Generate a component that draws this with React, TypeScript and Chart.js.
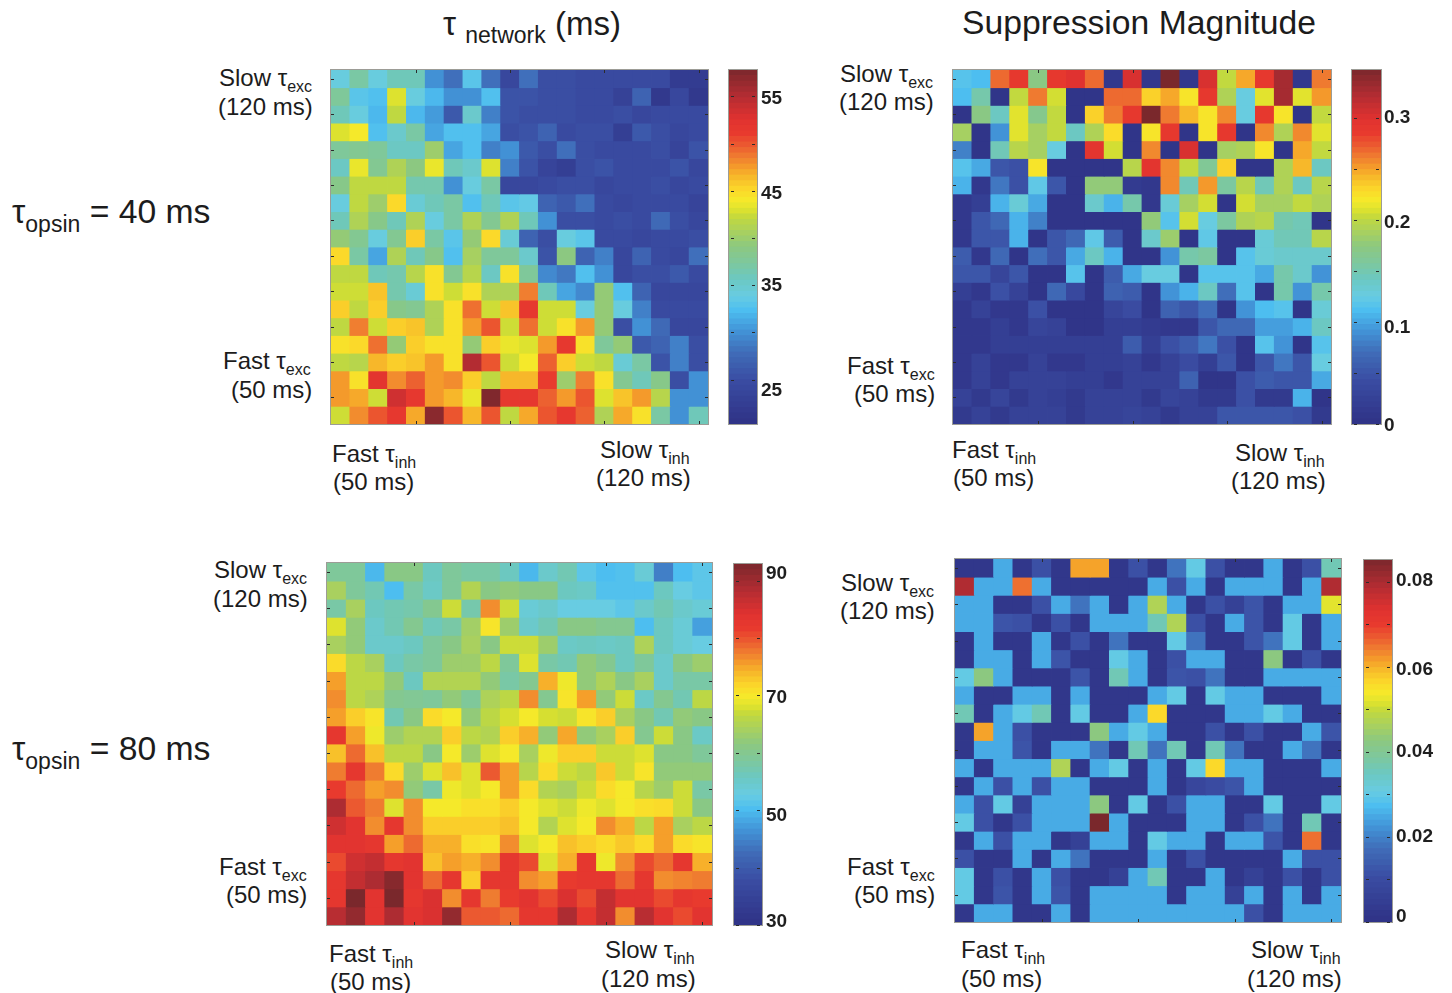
import React, { useEffect, useRef } from "react";
import { Chart, registerables } from "chart.js";

Chart.register(...registerables);

const columns = ["1","2","3","4","5","6","7","8","9","10","11","12","13","14","15","16","17","18","19","20"];

const tauNetwork40 = [
[34,37,34,36,36,30,28,33,28,24,28,25,25,24.5,24.5,24.5,24.5,24.5,22,22],
[37.5,33,32.5,43,34,32,30,30,32.5,25.5,25.5,25,25,24.5,24.5,23,27,21.5,24,21.5],
[36,34,32,42,32,30.5,26,35,29,25.5,25,25,25,24.5,24.5,25,24,24.5,24.5,24.5],
[43,44,32.5,35,37,31,32.5,32.5,31,25,25.5,27,24.5,25,25,22.5,26,25,24,24.5],
[37.5,38,37.5,35.5,35.5,40,31,32.5,29,30,26,25,28,25,24.5,24.5,24.5,25,23.5,25.5],
[35.5,43.5,38,41,39,43.5,36,35,43,29,25.5,23.5,22.5,25,25.5,24.5,24.5,24.5,25.5,24],
[38.5,42,42,42,36.5,36.5,30,34,37,24,24,24.5,25,25,24,24.5,24.5,25,24,24.5],
[34,42,40,45,34.5,36,37,32.5,36,33,33.5,27,26,28,24.5,24,24.5,24.5,24.5,23.5],
[36,41,38.5,36,41,34,37,41,38,41,36,30,25,25,24.5,25,24.5,27.5,25,24],
[39.5,38,34,38,45.5,37,33,39.5,45,34.5,27,25,34,33,24.5,24.5,24,24.5,24.5,25],
[45,37,31,41,36,38.5,32.5,40.5,37.5,37.5,35,25.5,39,27,29,24,27,24.5,24,28],
[42,42,36,36.5,41.5,44.5,38,41.5,35.5,44.5,37.5,29.5,28.5,32.5,30,24,25,25,26,24.5],
[42.5,42.5,46,36.5,34.5,44.5,42.5,44.5,41,41,48.5,36,31,29.5,39.5,32.5,27,24,24,24],
[45.5,42,45.5,38.5,38,41,44.5,49,42.5,46,51.5,42.5,42.5,34,39.5,34,29,24.5,24.5,24.5],
[42,48.5,42.5,45.5,46,41,44.5,47.5,50,42.5,49,42.5,44.5,47.5,39.5,25,30,27.5,24,24],
[44.5,45,49,39.5,45.5,44.5,44.5,39.5,45.5,43.5,43,47.5,51.5,44.5,37.5,39.5,26,27,29,25],
[42,41.5,46.5,45.5,46,47.5,44.5,55,50,42.5,44,49.5,45.5,42.5,42,34.5,37,25.5,29,25],
[47.5,44.5,52,48,49.5,47.5,48,45.5,42,46.5,46.5,51,40,48.5,44.5,38,36,38.5,25,30],
[47.5,47,42.5,53.5,51.5,47.5,46.5,43.5,57.5,51.5,51.5,49.5,47.5,50,43,46,47.5,41.5,30,30],
[42.5,48,50,51.5,47,57,50,46.5,50,42,47,50,51.5,49.5,41,47,44.5,37,30,36],
];

const suppression40 = [
[.115,.11,.265,.285,.17,.285,.295,.265,.01,.3,.01,.344,.01,.3,.2,.245,.285,.325,.01,.26],
[.11,.15,.005,.2,.26,.205,.005,.005,.265,.265,.23,.245,.22,.285,.19,.125,.21,.325,.21,.25],
[.005,.17,.14,.21,.165,.2,.005,.23,.26,.285,.344,.26,.24,.22,.255,.125,.285,.22,.005,.2],
[.185,.005,.09,.21,.185,.2,.14,.19,.225,.005,.22,.285,.005,.22,.285,.005,.255,.19,.255,.21],
[.08,.005,.145,.195,.185,.125,.005,.29,.205,.005,.255,.005,.3,.005,.185,.19,.22,.005,.245,.2],
[.115,.1,.05,.045,.22,.005,.005,.005,.005,.195,.29,.255,.2,.16,.23,.005,.005,.19,.24,.14],
[.105,.01,.075,.045,.12,.05,.005,.175,.175,.015,.01,.255,.145,.25,.155,.195,.145,.19,.14,.195],
[.01,.02,.105,.13,.1,.005,.005,.135,.105,.15,.01,.13,.185,.205,.005,.205,.185,.185,.2,.19],
[.01,.05,.065,.105,.08,.005,.005,.005,.005,.005,.175,.115,.205,.125,.155,.19,.195,.15,.145,.005],
[.01,.05,.05,.105,.005,.05,.065,.12,.055,.005,.135,.18,.005,.12,.005,.005,.13,.145,.145,.195],
[.055,.01,.065,.005,.07,.05,.1,.14,.105,.005,.005,.09,.15,.155,.005,.115,.13,.135,.135,.135],
[.05,.05,.03,.05,.005,.005,.115,.005,.055,.1,.125,.125,.005,.115,.115,.115,.1,.15,.135,.09],
[.02,.01,.045,.025,.005,.065,.035,.005,.06,.055,.005,.09,.105,.14,.07,.115,.005,.15,.09,.15],
[.01,.025,.01,.01,.045,.005,.005,.005,.03,.04,.005,.06,.05,.07,.005,.09,.11,.115,.005,.13],
[.01,.01,.02,.01,.03,.025,.005,.005,.02,.02,.015,.01,.01,.05,.065,.065,.095,.095,.105,.14],
[.01,.01,.02,.02,.02,.02,.02,.02,.02,.055,.02,.045,.055,.075,.045,.005,.115,.09,.005,.115],
[.01,.025,.01,.01,.025,.01,.01,.02,.02,.025,.01,.025,.04,.02,.05,.005,.05,.075,.05,.125],
[.01,.025,.01,.025,.025,.025,.02,.02,.01,.025,.025,.025,.06,.005,.005,.045,.055,.05,.05,.1],
[.025,.012,.03,.012,.025,.02,.012,.025,.025,.025,.012,.03,.025,.012,.012,.045,.012,.012,.105,.005],
[.012,.025,.012,.025,.025,.025,.012,.025,.025,.03,.025,.012,.025,.025,.05,.05,.05,.05,.045,.012],
];

const tauNetwork80 = [
[58,58,49,60,60,55,58,57,57,55,49,54,56,51,49.5,50,53,44,49.5,51],
[63,58,56,49.5,57,54.5,58,64,60,61,60,60,55,54.5,50,50,50,55,52,51],
[57,63,55,56,56.5,59,66,56.5,75,66,53,54,52,52,52,51,54,56,54,53],
[67,61,54,56,59,55.5,57,62.5,69,62,54,56,60,60,59,59,49.5,55,53,47],
[63,61,54,54,55,58,60,63,60,66,66,62,54.5,55,54.5,55,63.5,55,53,52],
[70,65,63,55,57,58,62,62,65,58,67,57,56,61,59,55,58,54,60,62],
[74,65,65,61,55,64,64,64,61,57,59,73,68,61,63.5,60,63,54,57,57],
[75,65,63.5,59,58.5,58,61,58,63.5,65,75,59,69,74,61,66,54.5,59,56,65],
[74,71,69,56,60,70,68.5,61,65,66.5,68.5,66.5,66,69,71,63,60,56,61,60],
[81,74,68,62,64,64,71,65,64,71,73,61,73.5,61,63,71,59,66,60,54.5],
[72,77,72,65,65,60,68.5,62,67,68.5,63,68,71,71,66,66,67,60,60,58],
[76,81,76,70,62,67,72,67,78,74,64.5,70,66,65,71.5,66,69,61,61,61],
[80,77,74,75,61,57,68,67,68.5,74,70,64,63,66,70,68.5,64.5,62,66,57],
[87,78,76,67,75,68.5,68.5,69.5,69.5,71,68.5,67,66,68,67,68.5,69.5,70,66,60],
[84,82,75,81,75,71,71,71,71,72,68.5,64,67,68.5,75,73,65,74,63,65],
[82,82,81,74,77,73,73,69.5,69,75,67,68.5,72,71,70,71.5,70,74,70,69],
[79,84,85,81,82,72,74,73,75,81,79,67,73,81,68,75,79,77,81,73],
[81,85,87,90,82,77,81,71,81,81,75,74,80,81,81,77,81,75,75.5,76],
[81,91,82,91,81,83,75,81,76,80,82,79,83,79,85,82,82,79,81,80],
[86,89,82,87,82,83,89,78,78,77,81,81,87,81,85,75,86,82,79,82],
];

const suppression80 = [
[.002,.002,.025,.002,.011,.002,.061,.061,.002,.011,.002,.018,.03,.011,.002,.002,.025,.002,.011,.036],
[.079,.025,.025,.065,.025,.002,.002,.002,.002,.002,.025,.011,.025,.002,.025,.025,.025,.002,.025,.079],
[.025,.025,.002,.002,.011,.025,.018,.025,.002,.025,.047,.025,.002,.011,.006,.012,.002,.025,.025,.052],
[.025,.025,.012,.011,.002,.011,.002,.025,.025,.025,.036,.047,.011,.002,.025,.012,.002,.03,.002,.025],
[.002,.025,.002,.002,.025,.002,.011,.002,.018,.002,.002,.03,.018,.002,.002,.012,.018,.03,.002,.025],
[.002,.025,.025,.002,.025,.012,.002,.002,.03,.025,.002,.011,.025,.025,.002,.002,.0425,.002,.011,.002],
[.03,.0425,.025,.002,.002,.002,.012,.002,.036,.025,.002,.012,.011,.018,.002,.002,.025,.025,.025,.025],
[.025,.002,.002,.025,.025,.002,.025,.002,.002,.002,.025,.03,.002,.03,.025,.025,.002,.002,.002,.025],
[.036,.002,.025,.03,.036,.002,.03,.002,.002,.025,.056,.002,.002,.002,.025,.025,.03,.025,.002,.002],
[.002,.061,.025,.011,.002,.002,.002,.0425,.025,.03,.025,.002,.002,.011,.002,.011,.002,.002,.025,.012],
[.002,.025,.025,.012,.002,.025,.025,.018,.002,.036,.018,.036,.002,.036,.018,.002,.002,.025,.018,.002],
[.025,.002,.025,.025,.025,.047,.002,.025,.03,.002,.025,.002,.03,.056,.025,.025,.002,.002,.002,.025],
[.002,.025,.011,.025,.011,.025,.025,.002,.002,.002,.025,.002,.008,.01,.012,.025,.002,.002,.002,.002],
[.025,.011,.03,.006,.025,.025,.025,.0425,.002,.03,.002,.011,.025,.025,.002,.002,.03,.002,.002,.03],
[.03,.011,.002,.011,.025,.025,.025,.085,.025,.002,.002,.002,.025,.025,.002,.011,.018,.002,.036,.002],
[.002,.025,.011,.025,.025,.002,.006,.025,.025,.002,.03,.025,.025,.002,.025,.025,.012,.002,.065,.002],
[.011,.002,.002,.025,.002,.025,.018,.002,.002,.002,.025,.002,.011,.002,.002,.002,.002,.025,.011,.011],
[.03,.002,.011,.002,.025,.011,.002,.002,.006,.025,.036,.002,.002,.025,.002,.006,.002,.011,.002,.011],
[.03,.002,.012,.002,.025,.012,.002,.025,.025,.025,.025,.002,.025,.025,.006,.025,.002,.025,.002,.025],
[.002,.025,.025,.002,.002,.025,.002,.025,.025,.025,.025,.025,.025,.025,.025,.011,.002,.025,.025,.025],
];

const colorbarTicks40Tau = [25, 30, 35, 40, 45, 50, 55];
const colorbarTicks40Supp = [0, 0.05, 0.1, 0.15, 0.2, 0.25, 0.3];
const colorbarTicks80Tau = [30, 40, 50, 60, 70, 80, 90];
const colorbarTicks80Supp = [0, 0.01, 0.02, 0.03, 0.04, 0.05, 0.06, 0.07, 0.08];
const labelled40Tau = ["25", "35", "45", "55"];
const labelled40Supp = ["0", "0.1", "0.2", "0.3"];
const labelled80Tau = ["30", "50", "70", "90"];
const labelled80Supp = ["0", "0.02", "0.04", "0.06", "0.08"];

const paletteStops: [number, number, number, number][] = [
  [0, 47, 50, 134], [0.12, 58, 76, 162], [0.2, 64, 108, 184], [0.26, 66, 146, 214],
  [0.32, 77, 190, 240], [0.36, 104, 204, 226], [0.41, 108, 200, 192], [0.45, 124, 200, 160],
  [0.5, 140, 200, 128], [0.54, 168, 208, 96], [0.58, 192, 216, 64], [0.6, 216, 224, 48],
  [0.63, 245, 234, 42], [0.66, 251, 216, 42], [0.69, 248, 192, 42], [0.72, 245, 160, 42],
  [0.75, 240, 128, 48], [0.78, 236, 96, 48], [0.82, 232, 58, 46], [0.86, 224, 50, 48],
  [0.93, 176, 44, 50], [1, 122, 40, 44],
];

function colorAt(t: number) {
  const q = Math.max(0, Math.min(1, t));
  let i = 0;
  while (i < paletteStops.length - 2 && q > paletteStops[i + 1][0]) i++;
  const a = paletteStops[i], b = paletteStops[i + 1];
  const f = (q - a[0]) / (b[0] - a[0]);
  const c = [1, 2, 3].map((k) => Math.round(a[k] + (b[k] - a[k]) * f));
  return `rgb(${c[0]},${c[1]},${c[2]})`;
}

const markColor = "#2b2b2b";
const frameColor = "#9c9c96";

const heatFrame = {
  id: "heatFrame",
  afterDraw(chart: any) {
    const { ctx, chartArea: a, scales } = chart;
    ctx.save();
    ctx.strokeStyle = frameColor;
    ctx.lineWidth = 1;
    ctx.strokeRect(a.left - 0.5, a.top - 0.5, a.right - a.left + 1, a.bottom - a.top + 1);
    ctx.strokeStyle = markColor;
    ctx.beginPath();
    [4, 9, 14, 19].forEach((c) => {
      const x = Math.round(scales.x.getPixelForValue(c)) + 0.5;
      ctx.moveTo(x, a.top); ctx.lineTo(x, a.top + 3);
      ctx.moveTo(x, a.bottom); ctx.lineTo(x, a.bottom - 3);
    });
    [0.5, 2.5, 4.5, 6.5, 8.5, 10.5, 12.5, 14.5, 16.5, 18.5].forEach((r) => {
      const y = Math.round(scales.y.getPixelForValue(r)) + 0.5;
      ctx.moveTo(a.left, y); ctx.lineTo(a.left + 3, y);
      ctx.moveTo(a.right, y); ctx.lineTo(a.right - 3, y);
    });
    ctx.stroke();
    ctx.restore();
  },
};

const barFrame = {
  id: "barFrame",
  afterDraw(chart: any) {
    const { ctx, chartArea: a, scales } = chart;
    ctx.save();
    ctx.strokeStyle = frameColor;
    ctx.lineWidth = 1;
    ctx.strokeRect(a.left - 0.5, a.top - 0.5, a.right - a.left + 1, a.bottom - a.top + 1);
    ctx.strokeStyle = markColor;
    ctx.beginPath();
    scales.y.ticks.forEach((t: any) => {
      const y = Math.round(scales.y.getPixelForValue(t.value)) + 0.5;
      ctx.moveTo(a.left + 2, y); ctx.lineTo(a.left + 5, y);
      ctx.moveTo(a.right - 2, y); ctx.lineTo(a.right - 5, y);
    });
    ctx.stroke();
    ctx.restore();
  },
};

function Heatmap({ rows, domain, box }: any) {
  const ref = useRef<HTMLCanvasElement>(null);
  useEffect(() => {
    const chart = new Chart(ref.current!, {
      type: "bar",
      data: {
        labels: columns,
        datasets: rows.map((row: number[], r: number) => ({
          data: row.map(() => [r, r + 1]),
          backgroundColor: row.map((v) => colorAt((v - domain[0]) / (domain[1] - domain[0]))),
          barPercentage: 1,
          categoryPercentage: 1,
          borderWidth: 0,
          inflateAmount: 0.4,
        })),
      },
      options: {
        responsive: false,
        animation: false,
        layout: { padding: 1 },
        plugins: { legend: { display: false }, tooltip: { enabled: false } },
        scales: {
          x: { stacked: true, display: false },
          y: { min: 0, max: rows.length, reverse: true, display: false },
        },
      },
      plugins: [heatFrame],
    } as any);
    return () => chart.destroy();
  }, []);
  return (
    <canvas
      ref={ref}
      width={box.w + 2}
      height={box.h + 2}
      style={{ position: "absolute", left: box.x - 1, top: box.y - 1, width: box.w + 2, height: box.h + 2 }}
    />
  );
}

const barMargin = 14;
const axisWidth = 54;

function Colorbar({ range, ticks, labelled, nudge, box }: any) {
  const ref = useRef<HTMLCanvasElement>(null);
  useEffect(() => {
    const levels = 64;
    const step = (range[1] - range[0]) / levels;
    const datasets = [];
    for (let i = 0; i < levels; i++) {
      datasets.push({
        data: [[range[0] + i * step, range[0] + (i + 1) * step]],
        backgroundColor: colorAt((i + 0.5) / levels),
        barPercentage: 1,
        categoryPercentage: 1,
        borderWidth: 0,
        inflateAmount: 0.4,
      });
    }
    const chart = new Chart(ref.current!, {
      type: "bar",
      data: { labels: ["scale"], datasets },
      options: {
        responsive: false,
        animation: false,
        layout: { padding: { left: 1, top: barMargin, bottom: barMargin, right: 0 } },
        plugins: { legend: { display: false }, tooltip: { enabled: false } },
        scales: {
          x: { stacked: true, display: false },
          y: {
            position: "right",
            min: range[0],
            max: range[1],
            afterBuildTicks(scale: any) {
              scale.ticks = ticks.map((value: number) => ({ value }));
            },
            afterFit(scale: any) {
              scale.width = axisWidth;
              scale.paddingTop = 0;
              scale.paddingBottom = 0;
            },
            border: { display: false },
            grid: { display: false, drawTicks: false },
            ticks: {
              autoSkip: false,
              maxRotation: 0,
              padding: box.pad,
              color: "#1f1f1f",
              font(ctx: any) {
                const label = String(ctx.tick ? ctx.tick.value : "");
                const n = nudge[label] || 0;
                return { family: "'Liberation Sans'", size: 19, weight: "bold", lineHeight: n ? Math.abs(n) * 2 + "px" : 1.2 };
              },
              callback(value: number) {
                const label = String(value);
                if (!labelled.includes(label)) return "";
                const n = nudge[label] || 0;
                return n > 0 ? ["", label] : n < 0 ? [label, ""] : label;
              },
            },
          },
        },
      },
      plugins: [barFrame],
    } as any);
    return () => chart.destroy();
  }, []);
  const cw = box.w + 1 + axisWidth;
  const ch = box.h + barMargin * 2;
  return (
    <canvas
      ref={ref}
      width={cw}
      height={ch}
      style={{ position: "absolute", left: box.x - 1, top: box.y - barMargin, width: cw, height: ch }}
    />
  );
}

const textStyle = { fontFamily: "'Liberation Sans', Arial, sans-serif", color: "#1c1c1c" };

function Txt({ x, y, size = 24, children }: any) {
  return (
    <div style={{ ...textStyle, position: "absolute", left: x, top: y - size / 2, fontSize: size, lineHeight: `${size}px`, whiteSpace: "nowrap" }}>
      {children}
    </div>
  );
}

function Sub({ size = 16, drop = 6, children }: any) {
  return <span style={{ fontSize: size, position: "relative", top: drop }}>{children}</span>;
}

function CornerLabels({ lines }: any) {
  return lines.map((l: any, i: number) => (
    <Txt key={i} x={l[0]} y={l[1]}>
      {l[2]}
      {l[3] ? <Sub>{l[3]}</Sub> : null}
    </Txt>
  ));
}

const cornerText = [
  [219, 78, "Slow τ", "exc"], [218, 107, "(120 ms)"], [223, 361, "Fast τ", "exc"], [231, 390, "(50 ms)"],
  [332, 454, "Fast τ", "inh"], [333, 482, "(50 ms)"], [600, 450, "Slow τ", "inh"], [596, 478, "(120 ms)"],
  [840, 74, "Slow τ", "exc"], [839, 102, "(120 ms)"], [847, 366, "Fast τ", "exc"], [854, 394, "(50 ms)"],
  [952, 450, "Fast τ", "inh"], [953, 478, "(50 ms)"], [1235, 453, "Slow τ", "inh"], [1231, 481, "(120 ms)"],
  [214, 570, "Slow τ", "exc"], [213, 599, "(120 ms)"], [219, 867, "Fast τ", "exc"], [226, 895, "(50 ms)"],
  [329, 954, "Fast τ", "inh"], [330, 982, "(50 ms)"], [605, 950, "Slow τ", "inh"], [601, 979, "(120 ms)"],
  [841, 583, "Slow τ", "exc"], [840, 611, "(120 ms)"], [847, 867, "Fast τ", "exc"], [854, 895, "(50 ms)"],
  [961, 950, "Fast τ", "inh"], [961, 979, "(50 ms)"], [1251, 950, "Slow τ", "inh"], [1247, 979, "(120 ms)"],
];

export default function App() {
  return (
    <div style={{ position: "absolute", left: 0, top: 0, width: 1452, height: 993, background: "#fff", overflow: "hidden", filter: "blur(0.4px)" }}>
      <Heatmap rows={tauNetwork40} domain={[20.3, 57.8]} box={{ x: 331, y: 70, w: 377, h: 354 }} />
      <Heatmap rows={suppression40} domain={[0, 0.344]} box={{ x: 953, y: 70, w: 378, h: 354 }} />
      <Heatmap rows={tauNetwork80} domain={[30, 91]} box={{ x: 327, y: 563, w: 385, h: 362 }} />
      <Heatmap rows={suppression80} domain={[0, 0.085]} box={{ x: 955, y: 559, w: 386, h: 363 }} />

      <Colorbar range={[20.3, 57.8]} ticks={colorbarTicks40Tau} labelled={labelled40Tau} nudge={{ "55": 2, "45": 3, "35": 1, "25": 11 }} box={{ x: 729, y: 70, w: 28, h: 354, pad: 4 }} />
      <Colorbar range={[0, 0.347]} ticks={colorbarTicks40Supp} labelled={labelled40Supp} nudge={{ "0.2": 3, "0.1": 6, "0": 2 }} box={{ x: 1352, y: 70, w: 29, h: 354, pad: 3 }} />
      <Colorbar range={[30, 92.9]} ticks={colorbarTicks80Tau} labelled={labelled80Tau} nudge={{ "90": -7, "70": 2, "50": 6, "30": -3 }} box={{ x: 734, y: 564, w: 28, h: 361, pad: 4 }} />
      <Colorbar range={[0, 0.0851]} ticks={colorbarTicks80Supp} labelled={labelled80Supp} nudge={{ "0": -5, "0.08": -1, "0.06": 3 }} box={{ x: 1364, y: 560, w: 28, h: 362, pad: 4 }} />

      <Txt x={443} y={23} size={33}>τ <span style={{ fontSize: 23, position: "relative", top: 8 }}>network</span> (ms)</Txt>
      <Txt x={962} y={23} size={33.7}>Suppression Magnitude</Txt>
      <Txt x={12} y={212} size={33.7}>τ<Sub size={23} drop={9}>opsin</Sub> = 40 ms</Txt>
      <Txt x={12} y={749} size={33.7}>τ<Sub size={23} drop={9}>opsin</Sub> = 80 ms</Txt>
      <CornerLabels lines={cornerText} />
    </div>
  );
}
